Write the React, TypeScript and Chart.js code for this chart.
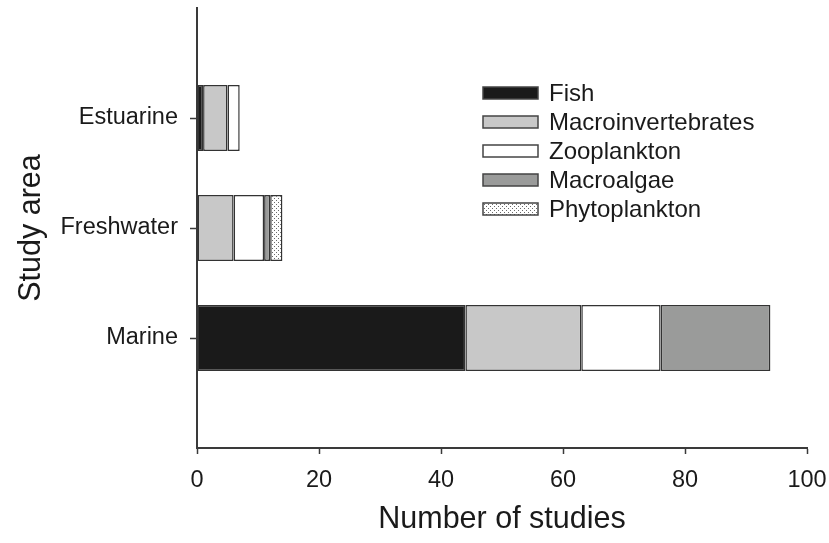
import React, { useEffect, useRef } from "react";
import { Chart, registerables } from "chart.js";

Chart.register(...registerables);

// ---- Data ----
const categories = ["Estuarine", "Freshwater", "Marine"];
const seriesNames = ["Fish", "Macroinvertebrates", "Zooplankton", "Macroalgae", "Phytoplankton"];
const fish = [1, 0, 44];
const macroinvertebrates = [4, 6, 19];
const zooplankton = [2, 5, 13];
const macroalgae = [0, 1, 18];
const phytoplankton = [0, 2, 0];
const xTicks = [0, 20, 40, 60, 80, 100];

const seriesValues = [fish, macroinvertebrates, zooplankton, macroalgae, phytoplankton];

function makeStipple(): CanvasPattern | string {
  const c = document.createElement("canvas");
  c.width = 4;
  c.height = 4;
  const g = c.getContext("2d");
  if (!g) return "#ddd";
  g.fillStyle = "#ffffff";
  g.fillRect(0, 0, 4, 4);
  g.fillStyle = "#6a6a6a";
  g.fillRect(0, 0, 1, 1);
  g.fillRect(2, 2, 1, 1);
  const p = g.createPattern(c, "repeat");
  return p || "#ddd";
}

const FONT = "'Liberation Sans', Arial, sans-serif";
const AXIS_COLOR = "#3a3a3a";

export default function App() {
  const canvasRef = useRef<HTMLCanvasElement | null>(null);

  useEffect(() => {
    const canvas = canvasRef.current;
    if (!canvas) return;
    const stipple = makeStipple();
    const fills: (string | CanvasPattern)[] = ["#1a1a1a", "#c8c8c8", "#ffffff", "#9a9b9a", stipple];

    // padded labels so the three bars sit at 1/4, 2/4, 3/4 of the axis
    const labels = ["", ...categories, ""];

    const datasets = seriesNames.map((name, i) => ({
      label: name,
      data: [null, ...seriesValues[i].map((v) => (v === 0 ? null : v)), null],
      backgroundColor: fills[i],
      borderColor: "#333333",
      borderWidth: 1.5,
      borderSkipped: false,
      categoryPercentage: 1,
      barPercentage: 0.6,
    }));

    const legendPlugin = {
      id: "customLegend",
      afterDraw(chart: any) {
        const ctx = chart.ctx as CanvasRenderingContext2D;
        const boxLeft = 483;
        const boxW = 55;
        const boxH = 12;
        const top = 93;
        const step = 29;
        ctx.save();
        chart.data.datasets.forEach((ds: any, i: number) => {
          const cy = top + i * step;
          ctx.fillStyle = ds.backgroundColor;
          ctx.fillRect(boxLeft, cy - boxH / 2, boxW, boxH);
          ctx.strokeStyle = "#444";
          ctx.lineWidth = 1.5;
          ctx.strokeRect(boxLeft, cy - boxH / 2, boxW, boxH);
          ctx.fillStyle = "#1a1a1a";
          ctx.font = `24px ${FONT}`;
          ctx.textAlign = "left";
          ctx.textBaseline = "middle";
          ctx.fillText(ds.label, 549, cy + 1);
        });
        ctx.restore();
      },
    };

    const chart = new Chart(canvas, {
      type: "bar",
      data: { labels, datasets: datasets as any },
      options: {
        animation: false,
        responsive: false,
        indexAxis: "y",
        layout: { padding: { top: 8, right: 22, bottom: 0, left: 0 } },
        plugins: {
          legend: { display: false },
          tooltip: { enabled: false },
        },
        scales: {
          x: {
            type: "linear",
            stacked: true,
            min: 0,
            max: 100,
            afterBuildTicks: (scale: any) => {
              scale.ticks = xTicks.map((v) => ({ value: v }));
            },
            afterFit: (scale: any) => {
              scale.height = 95;
              scale.paddingLeft = 0;
              scale.paddingRight = 0;
            },
            border: { display: true, color: AXIS_COLOR, width: 2 },
            grid: {
              drawOnChartArea: false,
              drawTicks: true,
              offset: false,
              tickLength: 6,
              tickColor: AXIS_COLOR,
              tickWidth: 1.5,
            },
            ticks: {
              color: "#1a1a1a",
              padding: 12,
              font: { family: FONT, size: 23.5 },
            },
            title: {
              display: true,
              text: "Number of studies",
              color: "#1a1a1a",
              font: { family: FONT, size: 30.5 },
              padding: { top: 0, bottom: 5 },
            },
          },
          y: {
            type: "category",
            stacked: true,
            offset: false,
            afterFit: (scale: any) => {
              scale.width = 197;
              scale.paddingTop = 0;
              scale.paddingBottom = 0;
            },
            border: { display: true, color: AXIS_COLOR, width: 2 },
            grid: {
              drawOnChartArea: false,
              drawTicks: true,
              offset: false,
              tickLength: 7,
              tickWidth: 1.5,
              tickColor: (ctx: any) =>
                ctx.index === 0 || ctx.index === labels.length - 1 ? "rgba(0,0,0,0)" : AXIS_COLOR,
            },
            ticks: {
              color: "#1a1a1a",
              padding: 12,
              font: { family: FONT, size: 23.5 },
            },
            title: {
              display: true,
              text: "Study area",
              color: "#1a1a1a",
              font: { family: FONT, size: 30.5 },
              padding: { top: 13, bottom: 0 },
            },
          },
        },
      },
      plugins: [legendPlugin],
    });

    return () => {
      chart.destroy();
    };
  }, []);

  return (
    <div style={{ position: "absolute", left: 0, top: 0, width: 829, height: 543, background: "#ffffff" }}>
      <canvas ref={canvasRef} width={829} height={543} style={{ display: "block" }} />
    </div>
  );
}
